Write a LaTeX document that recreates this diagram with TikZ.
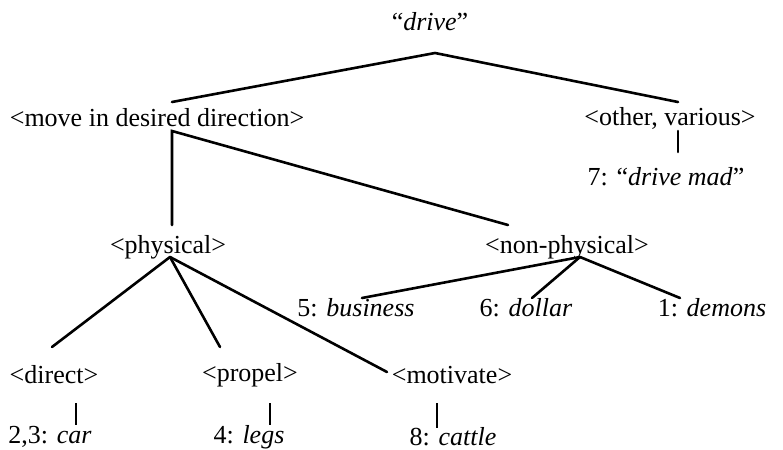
\documentclass[tikz,border=0pt]{standalone}
\usepackage{fontspec}
\setmainfont{Liberation Serif}[
  UprightFont=*,
  ItalicFont=* Italic,
  BoldFont=* Bold,
  BoldItalicFont=* Bold Italic]
\usepackage{tikz}
\usetikzlibrary{positioning}
\tikzset{
  lbl/.style={inner sep=0pt, font=\fontsize{13}{15}\selectfont, anchor=center},
  br/.style={line width=1.3pt, line cap=round},
  stub/.style={line width=1pt},
}

\begin{document}
\begin{tikzpicture}[x=0.5pt, y=-0.5pt]
\useasboundingbox (0,0) rectangle (783,450);
% Knoten
\node[lbl] (drive)   at (430,22)  {``\textit{drive}''};
\node[lbl] (move)    at (157,118) {<move in desired direction>};
\node[lbl] (other)   at (670,118) {<other, various>};
\node[lbl] (mad)     at (666,177) {7: ``\textit{drive mad}''};
\node[lbl] (phys)    at (168,247) {<physical>};
\node[lbl] (nonphys) at (567,247) {<non-physical>};
\node[lbl] (busi)    at (356,308) {5: \textit{business}};
\node[lbl] (dollar)  at (526,308) {6: \textit{dollar}};
\node[lbl] (demons)  at (712,308) {1: \textit{demons}};
\node[lbl] (direct)  at (54,375)  {<direct>};
\node[lbl] (propel)  at (250,375) {<propel>};
\node[lbl] (motiv)   at (452,375) {<motivate>};
\node[lbl] (car)     at (50,437)  {2,3: \textit{car}};
\node[lbl] (legs)    at (249,437) {4: \textit{legs}};
\node[lbl] (cattle)  at (453,437) {8: \textit{cattle}};

% Verzweigungspunkte
\coordinate (drive-b)   at (435,53);
\coordinate (move-t)    at (172,102);
\coordinate (other-t)   at (678,102);
\coordinate (move-b)    at (172,131);
\coordinate (other-b)   at (678,131);
\coordinate (mad-t)     at (678,152);
\coordinate (phys-t)    at (172,225);
\coordinate (nonphys-t) at (508,225);
\coordinate (phys-b)    at (170,257);
\coordinate (nonphys-b) at (580,257);
\coordinate (busi-t)    at (362,298);
\coordinate (dollar-t)  at (532,298);
\coordinate (demons-t)  at (680,298);
\coordinate (direct-t)  at (52,347);
\coordinate (propel-t)  at (220,347);
\coordinate (motiv-t)   at (387,372);

\draw[br] (move-t) -- (drive-b) -- (other-t);
\draw[br] (other-b) -- (mad-t);
\draw[br] (phys-t) -- (move-b) -- (nonphys-t);
\foreach \c in {direct,propel,motiv} \draw[br] (phys-b) -- (\c-t);
\foreach \c in {busi,dollar,demons} \draw[br] (nonphys-b) -- (\c-t);
\draw[stub] (76,403) -- (76,425);
\draw[stub] (270,403) -- (270,425);
\draw[stub] (437,403) -- (437,428);
\end{tikzpicture}
\end{document}
